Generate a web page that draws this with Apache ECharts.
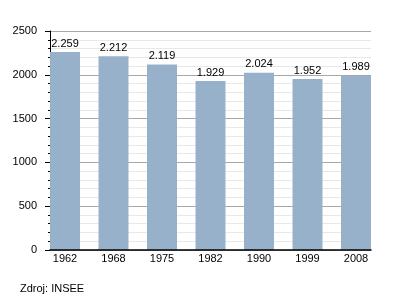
<!DOCTYPE html>
<html>
<head>
<meta charset="utf-8">
<script src="https://cdn.jsdelivr.net/npm/echarts@6/dist/echarts.min.js"></script>
<style>html,body{margin:0;padding:0;background:#fff;}#c{width:400px;height:300px;}</style>
</head>
<body>
<div id="c"></div>
<script>
var categories = ['1962', '1968', '1975', '1982', '1990', '1999', '2008'];
var population = [2259, 2212, 2119, 1929, 2024, 1952, 1989];
var yTicks = [0, 500, 1000, 1500, 2000, 2500];
var sourceText = 'Zdroj: INSEE';

var font = 'Liberation Sans, Arial, sans-serif';
function fmt(v) {
  var s = String(v);
  return s.length > 3 ? s.slice(0, s.length - 3) + '.' + s.slice(-3) : s;
}
var chart = echarts.init(document.getElementById('c'), null, {renderer: 'canvas'});
chart.setOption({
  animation: false,
  backgroundColor: '#fff',
  textStyle: {fontFamily: font},
  graphic: [{
    type: 'text', left: 20, top: 283,
    style: {text: sourceText, font: '11px ' + font, fill: '#000'}
  }],
  grid: [
    {left: 50, top: 31, width: 321, height: 219},
    {left: 40.75, top: 31, width: 339.5, height: 219}
  ],
  xAxis: [
    {gridIndex: 0, type: 'value', min: 0, max: 1, z: 5,
     axisLine: {show: true, lineStyle: {color: '#000', width: 1.5}},
     axisTick: {show: false}, axisLabel: {show: false}, splitLine: {show: false}},
    {gridIndex: 1, type: 'category', data: categories,
     axisLine: {show: false}, axisTick: {show: false},
     axisLabel: {color: '#000', fontSize: 11, fontFamily: font, margin: 3, interval: 0}}
  ],
  yAxis: [
    {gridIndex: 0, type: 'value', min: yTicks[0], max: yTicks[yTicks.length - 1], interval: 500,
     axisLine: {show: true, lineStyle: {color: '#000', width: 1}},
     axisTick: {show: true, length: 5, lineStyle: {color: '#000'}},
     minorTick: {show: true, splitNumber: 5, length: 2, lineStyle: {color: '#000'}},
     axisLabel: {color: '#000', fontSize: 11, fontFamily: font, margin: 13,
                 formatter: function (v) { return String(v); }},
     splitLine: {show: true, lineStyle: {color: '#a8a8a8', width: 1}},
     minorSplitLine: {show: true, lineStyle: {color: '#e8e8e8', width: 1}}},
    {gridIndex: 1, type: 'value', min: 0, max: 2500, show: false, splitLine: {show: false}}
  ],
  series: [{
    type: 'bar', xAxisIndex: 1, yAxisIndex: 1, data: population,
    barWidth: 30, z: 3,
    itemStyle: {color: '#98b1cb'},
    label: {show: true, position: 'top', distance: 3, color: '#000', fontSize: 11, fontFamily: font,
            formatter: function (p) { return fmt(p.value); }}
  }]
});
</script>
</body>
</html>
